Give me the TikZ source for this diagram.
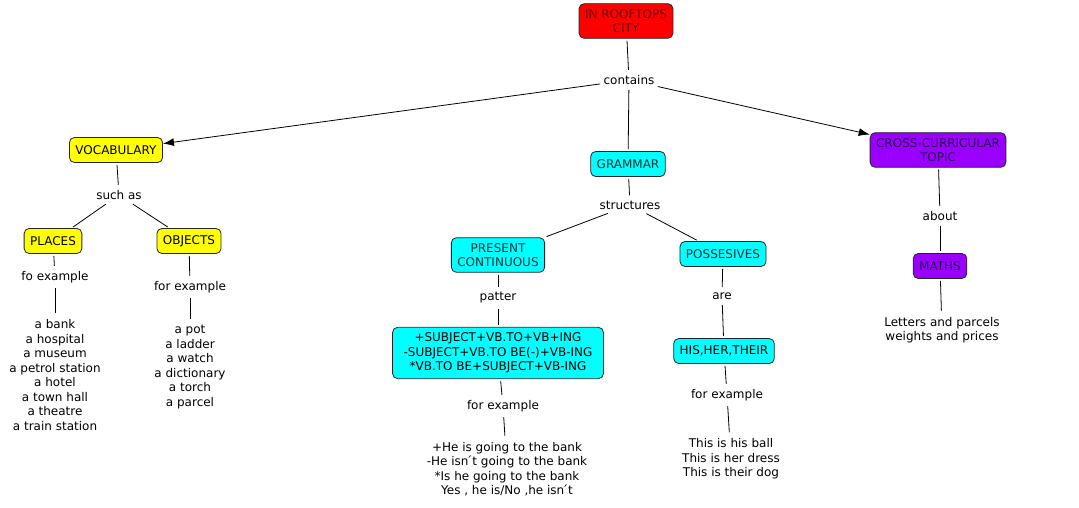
\documentclass[tikz,border=0pt]{standalone}
\usepackage{fontspec}
\setmainfont{DejaVu Sans}
\usetikzlibrary{arrows.meta}
\newcommand{\arw}{-{Latex[length=11pt,width=8pt]}}
\newcommand{\mapfont}{\fontsize{12}{14.5}\selectfont}
\definecolor{toptitle}{HTML}{FF0000}
\definecolor{toptext}{HTML}{6A0000}
\definecolor{vocabfill}{HTML}{FFFF00}
\definecolor{gramfill}{HTML}{00FFFF}
\definecolor{gramtext}{HTML}{003838}
\definecolor{crossfill}{HTML}{9900FF}
\definecolor{crosstext}{HTML}{2E0052}

\begin{document}
\begin{tikzpicture}[x=1pt,y=-1pt,
  every node/.style={font=\mapfont, align=center},
  concept/.style={draw=black!85, rounded corners=5pt, inner xsep=6pt, inner ysep=5.5pt, minimum height=25pt},
  linkword/.style={inner sep=3pt},
  examples/.style={inner sep=4pt},
  every path/.style={line width=0.8pt},
  cl/.style={shorten <=2pt, shorten >=2pt}]
\useasboundingbox (0,0) rectangle (1079,508);
\node[concept, fill=toptitle, text=toptext] (rooftops) at (626,21) {IN ROOFTOPS\\CITY};
\node[linkword] (contains) at (629,80) {contains};
%vocabulary
\node[concept, fill=vocabfill] (vocab) at (116,150) {VOCABULARY};
\node[linkword] (suchas) at (119,195) {such as};
\node[concept, fill=vocabfill] (places) at (53,241) {PLACES};
\node[concept, fill=vocabfill] (objects) at (189,241) {OBJECTS};
\node[linkword] (foex) at (55,277) {fo example};
\node[linkword] (forexobj) at (190,287) {for example};
\node[examples] (placelist) at (55,375) {a bank\\a hospital\\a museum\\a petrol station\\a hotel\\a town hall\\a theatre\\a train station};
\node[examples] (objlist) at (190,367) {a pot\\a ladder\\a watch\\a dictionary\\a torch\\a parcel};
%grammar
\node[concept, fill=gramfill, text=gramtext] (grammar) at (628,164) {GRAMMAR};
\node[linkword] (structures) at (630,205) {structures};
\node[concept, fill=gramfill, text=gramtext] (presentc) at (498,255) {PRESENT\\CONTINUOUS};
\node[concept, fill=gramfill, text=gramtext] (possesives) at (723,254) {POSSESIVES};
\node[linkword] (patter) at (498,298) {patter};
\node[concept, fill=gramfill, text=black, inner xsep=11pt] (pattern) at (498,353) {+SUBJECT+VB.TO+VB+ING\\-SUBJECT+VB.TO BE(-)+VB-ING\\*VB.TO BE+SUBJECT+VB-ING};
\node[linkword] (are) at (722,296) {are};
\node[concept, fill=gramfill, text=black] (hisher) at (724,351) {HIS,HER,THEIR};
\node[linkword] (forexpat) at (503,406) {for example};
\node[linkword] (forexhis) at (727,395) {for example};
\node[examples] (sentences) at (507,469) {+He is going to the bank\\-He isn\'{}t going to the bank\\*Is he going to the bank\\Yes , he is/No ,he isn\'{}t};
\node[examples] (hislist) at (731,459) {This is his ball\\This is her dress\\This is their dog};
%cross-curricular
\node[concept, fill=crossfill, text=crosstext] (cross) at (938,150) {CROSS-CURRICULAR\\TOPIC};
\node[linkword] (about) at (940,216) {about};
\node[concept, fill=crossfill, text=crosstext] (maths) at (940,266) {MATHS};
\node[examples] (letters) at (942,330) {Letters and parcels\\weights and prices};
%connectors
\draw[cl] (rooftops) -- (contains);
\draw[\arw] (contains) -- (vocab);
\draw[cl] (contains) -- (grammar);
\draw[\arw] (contains) -- (cross);
\draw[cl] (vocab) -- (suchas);
\draw[cl] (suchas) -- (places);
\draw[cl] (suchas) -- (objects);
\draw[cl] (places) -- (foex);
\draw[cl] (foex) -- (placelist);
\draw[cl] (objects) -- (forexobj);
\draw[cl] (forexobj) -- (objlist);
\draw[cl] (grammar) -- (structures);
\draw[cl] (structures) -- (presentc);
\draw[cl] (structures) -- (possesives);
\draw[cl] (presentc) -- (patter);
\draw[cl] (patter) -- (pattern);
\draw[cl] (pattern) -- (forexpat);
\draw[cl] (forexpat) -- (sentences);
\draw[cl] (possesives) -- (are);
\draw[cl] (are) -- (hisher);
\draw[cl] (hisher) -- (forexhis);
\draw[cl] (forexhis) -- (hislist);
\draw[cl] (cross) -- (about);
\draw[cl] (about) -- (maths);
\draw[cl] (maths) -- (letters);
\end{tikzpicture}
\end{document}
